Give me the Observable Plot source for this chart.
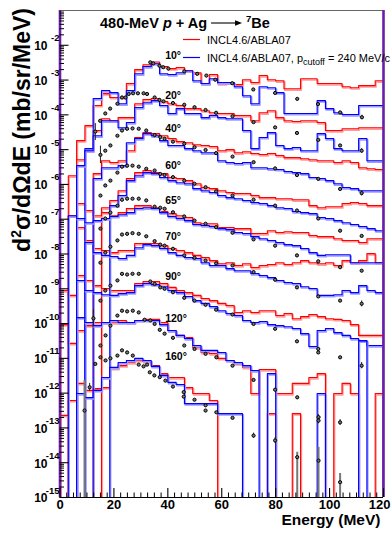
<!DOCTYPE html>
<html>
<head>
<meta charset="utf-8">
<script src="https://cdn.jsdelivr.net/npm/d3@7"></script>
<script src="https://cdn.jsdelivr.net/npm/@observablehq/plot@0.6"></script>
<style>
  html, body { margin: 0; padding: 0; background: #fff; }
  #chart svg { display: block; overflow: hidden; }
</style>
</head>
<body>
<div id="chart"></div>
<script>
// 480-MeV p + Ag -> 7Be: double-differential cross sections, log10(d2σ/dΩdE),
// each emission angle shifted down by its own decade factor.
const angles = [10, 20, 40, 60, 65, 70, 90, 120, 160];
const nBins = 39;   // model histograms: 39 bins over 0-120 MeV
const eMax = 120;

// INCL4.6/ABLA07 histograms, log10 per bin (null = empty bin)
const red10  = [null, null, -4.74, -4.31, -3.73, -3.39, -3.50, -3.50, -3.10, -2.70, -2.56, -2.48, -2.61, -2.67, -2.64, -2.73, -2.79, -3.10, -2.84, -3.10, -3.07, -3.13, -2.99, -3.07, -2.87, -2.99, -3.02, -3.25, -3.25, -2.96, -2.96, -3.10, -3.10, -3.10, -3.19, -3.22, -3.16, -3.16, -3.02];
const red20  = [null, -5.75, -5.29, -5.03, -4.45, -4.11, -4.17, -4.08, -4.08, -3.68, -3.56, -3.53, -3.62, -3.68, -3.73, -3.82, -3.82, -3.88, -3.94, -3.96, -3.96, -4.02, -4.02, -4.17, -3.94, -3.88, -4.08, -4.17, -4.19, -4.17, -4.17, -4.22, -4.45, -4.45, -4.40, -4.40, -4.37, -4.37, -4.37];
const red40  = [null, null, null, null, -5.69, -5.32, -5.37, -5.32, -5.03, -4.65, -4.51, -4.54, -4.60, -4.68, -4.77, -4.80, -4.86, -4.88, -4.91, -5.03, -5.00, -5.09, -5.06, -5.11, -5.14, -5.11, -5.17, -5.23, -5.23, -5.26, -5.29, -5.32, -5.32, -5.37, -5.32, -5.37, -5.52, -5.55, -5.57];
const red60  = [null, null, null, null, null, -6.67, -6.46, -6.18, -5.83, -5.66, -5.60, -5.66, -5.69, -5.80, -5.83, -5.89, -5.98, -6.09, -6.12, -6.18, -6.23, -6.26, -6.26, -6.32, -6.38, -6.38, -6.41, -6.41, -6.44, -6.44, -6.61, -6.67, -6.64, -6.64, -6.55, -6.52, -6.55, -6.61, -6.61];
const red65  = [null, -6.90, -6.55, -6.75, -6.90, -6.81, -6.90, -6.81, -6.69, -6.61, -6.61, -6.67, -6.78, -6.84, -6.90, -6.95, -7.10, -7.13, -7.13, -7.24, -7.24, -7.27, -7.27, -7.41, -7.41, -7.33, -7.38, -7.36, -7.38, -7.38, -7.47, -7.50, -7.50, -7.56, -7.61, -7.61, -7.67, -7.56, -7.56];
const red70  = [null, null, -7.24, -7.61, -7.84, -7.90, -7.96, -7.90, -7.90, -7.70, -7.70, -7.70, -7.76, -7.84, -7.90, -7.96, -8.04, -8.10, -8.19, -8.28, -8.25, -8.33, -8.28, -8.39, -8.33, -8.30, -8.25, -8.30, -8.25, -8.19, -8.25, -8.28, -8.25, -8.33, -8.19, -8.25, -8.19, -7.99, -8.25];
const red90  = [-9.05, -9.19, -8.62, -8.76, -8.91, -8.99, -9.05, -9.05, -9.05, -8.85, -8.79, -8.79, -8.85, -8.96, -9.05, -9.11, -9.19, -9.28, -9.34, -9.42, -9.48, -9.68, -9.63, -9.68, -9.63, -9.63, -9.77, -9.71, -9.86, -9.80, -9.74, -9.80, -9.86, -9.88, -9.91, -10.03, -10.34, -10.34, -10.34];
const red120 = [-10.03, -10.57, -10.20, -10.06, -9.97, -9.97, -9.97, -9.91, -9.97, -9.91, -9.88, -9.88, -9.97, -10.20, -10.34, -10.40, -10.69, -10.83, -10.86, -11.00, -11.06, -11.15, -11.26, -12.01, -11.32, -11.32, -12.01, -12.01, -11.72, -11.72, -11.55, -11.44, null, -12.01, -11.72, -12.01, null, null, -12.01];
const red160 = [-12.64, -12.21, -11.72, -11.92, -11.87, -11.84, -11.29, -11.21, -11.12, -11.06, -11.09, -11.21, -11.44, -11.55, -11.55, -11.84, -12.01, -12.01, -12.21, null, null, null, null, null, null, -12.59, null, null, -12.59, null, null, null, null, null, null, null, null, null, null];

// INCL4.6/ABLA07 with p_cutoff = 240 MeV/c
const blue10  = [null, null, null, -4.97, -3.53, -3.30, -3.36, -3.68, -3.30, -2.82, -2.61, -2.53, -2.82, -2.84, -2.79, -2.73, -3.02, -3.10, -2.96, -3.07, -3.07, -3.19, -3.45, -3.68, -3.19, -3.22, -3.36, -3.96, -3.96, -3.96, -3.96, -3.59, -3.82, -3.94, -3.99, -3.99, -3.73, -3.73, -3.73];
const blue20  = [null, null, -5.46, -5.03, -4.60, -4.17, -4.17, -4.37, -4.22, -3.79, -3.65, -3.59, -3.73, -3.96, -3.82, -3.96, -3.96, -4.08, -4.02, -4.08, -4.11, -4.11, -4.45, -4.97, -4.65, -4.51, -4.88, -4.97, -4.94, -5.03, -5.03, -4.54, -4.68, -4.97, -5.03, -5.03, -4.68, -5.32, -5.32];
const blue40  = [null, null, null, null, -5.83, -5.52, -5.52, -5.46, -4.80, -4.68, -4.54, -4.60, -4.74, -4.88, -4.88, -4.97, -5.03, -5.09, -5.09, -5.32, -5.37, -5.40, -5.37, -5.52, -5.52, -5.55, -5.57, -5.63, -5.66, -5.69, -5.80, -5.83, -5.89, -5.98, -6.09, -6.12, -6.18, -6.18, -6.18];
const blue60  = [null, null, null, null, null, null, -6.61, -6.32, -5.89, -5.75, -5.66, -5.69, -5.80, -5.89, -5.95, -5.98, -6.12, -6.18, -6.23, -6.32, -6.38, -6.41, -6.46, -6.52, -6.55, -6.61, -6.67, -6.69, -6.78, -6.81, -6.84, -6.95, -6.98, -7.04, -7.10, -7.15, -7.21, -7.27, -7.33];
const blue65  = [null, -6.90, -6.98, -7.10, -7.04, -6.98, -6.92, -6.87, -6.81, -6.69, -6.67, -6.69, -6.81, -6.92, -6.98, -7.04, -7.15, -7.18, -7.21, -7.27, -7.30, -7.38, -7.41, -7.50, -7.56, -7.61, -7.67, -7.73, -7.76, -7.84, -7.96, -8.04, -8.02, -8.02, -8.02, -8.25, -8.25, -8.25, -8.25];
const blue70  = [null, null, null, -7.67, -7.96, -8.04, -8.07, -8.13, -8.04, -7.82, -7.73, -7.76, -7.84, -7.96, -8.04, -8.10, -8.13, -8.25, -8.33, -8.33, -8.42, -8.48, -8.48, -8.56, -8.62, -8.68, -8.76, -8.82, -8.85, -8.94, -8.99, -9.19, -9.19, -9.17, -9.05, -9.11, -8.91, -9.05, -9.11];
const blue90  = [null, null, -8.76, -9.05, -9.11, -9.17, -9.19, -9.14, -9.11, -8.91, -8.85, -8.88, -8.94, -9.05, -9.11, -9.22, -9.34, -9.42, -9.51, -9.63, -9.71, -9.77, -9.91, -9.97, -9.94, -10.03, -10.06, -10.09, -10.14, -10.29, -10.66, -10.20, -10.14, -10.26, -10.34, -10.43, -10.49, -10.63, -10.63];
const blue120 = [null, null, -9.83, -9.97, -10.06, -9.97, -9.91, -9.97, -9.97, -9.91, -9.91, -9.91, -10.03, -10.20, -10.34, -10.43, -10.63, -10.77, -10.77, -10.83, -11.06, -11.12, -11.21, -11.35, null, -11.44, null, null, null, null, null, -12.01, null, null, null, null, -10.50, null, null];
const blue160 = [null, null, -12.01, -12.13, -11.92, -11.55, -11.26, -11.12, -11.06, -11.00, -11.06, -11.23, -11.49, -11.69, -11.75, -12.30, -12.30, -12.30, -12.30, -12.59, -12.59, -12.59, null, null, null, null, null, null, null, null, null, null, null, null, null, null, null, null, null];

// measured spectra: energy (MeV) and log10 value
const pts10E  = [33.5, 34.6, 36.9, 38.3, 40.2, 46.1, 50.9, 54.3, 57.6, 63.9, 71.7, 79.8, 88.0, 95.7, 103.9, 112.0];
const pts10L  = [-2.49, -2.52, -2.59, -2.63, -2.67, -2.75, -2.82, -2.87, -2.99, -3.09, -3.27, -3.37, -3.54, -3.69, -3.93, -4.07];
const pts20E  = [13.1, 14.9, 16.8, 18.6, 21.3, 23.0, 24.3, 25.5, 27.1, 28.9, 31.0, 32.3, 35.1, 36.9, 38.4, 41.9, 46.1, 49.9, 54.0, 57.9, 64.0, 71.8, 79.8, 87.9, 95.8, 103.9, 111.9];
const pts20L  = [-4.48, -4.17, -3.96, -3.82, -3.68, -3.50, -3.50, -3.40, -3.38, -3.38, -3.38, -3.40, -3.50, -3.57, -3.61, -3.66, -3.71, -3.78, -3.86, -3.94, -4.04, -4.21, -4.36, -4.52, -4.72, -4.88, -5.03];
const ptsMidE = [15.0, 16.8, 18.7, 21.3, 23.0, 24.9, 26.9, 29.2, 32.0, 35.1, 37.2, 38.8, 41.9, 46.1, 49.9, 54.0, 57.9, 64.0, 71.8, 79.8, 87.9, 95.8, 103.9, 111.9];
const pts40L  = [-5.15, -5.03, -4.88, -4.60, -4.45, -4.40, -4.39, -4.40, -4.45, -4.58, -4.64, -4.69, -4.77, -4.83, -4.93, -5.01, -5.10, -5.20, -5.36, -5.54, -5.73, -5.84, -6.13, -6.25];
const pts60L  = [-6.32, -6.03, -5.89, -5.66, -5.49, -5.46, -5.46, -5.49, -5.55, -5.60, -5.70, -5.73, -5.79, -5.89, -5.98, -6.08, -6.20, -6.32, -6.44, -6.61, -6.75, -6.98, -7.33, -7.48];
const pts65L  = [-7.27, -6.98, -6.81, -6.61, -6.44, -6.41, -6.41, -6.41, -6.46, -6.64, -6.67, -6.70, -6.80, -6.92, -7.04, -7.13, -7.23, -7.39, -7.58, -7.76, -8.04, -8.21, -8.38, -8.48];
const pts70L  = [-8.25, -7.96, -7.79, -7.61, -7.44, -7.42, -7.40, -7.42, -7.49, -7.63, -7.73, -7.76, -7.85, -8.04, -8.11, -8.19, -8.27, -8.33, -8.52, -8.74, -8.96, -9.22, -9.34, -9.43];
const pts90E  = [15.0, 16.8, 18.7, 21.3, 23.0, 24.9, 26.9, 29.2, 33.5, 35.1, 37.2, 38.8, 41.9, 46.1, 49.9, 54.0, 57.9, 64.0, 71.8, 79.8, 87.9, 95.8, 95.8, 103.9, 111.9];
const pts90L  = [-9.34, -9.05, -8.91, -8.76, -8.57, -8.59, -8.57, -8.57, -8.79, -8.86, -8.96, -9.00, -9.10, -9.26, -9.34, -9.46, -9.60, -9.74, -10.01, -10.15, -10.51, -10.73, -10.83, -10.97, -11.21];
const pts120E = [12.4, 15.0, 16.9, 18.7, 21.3, 23.0, 24.9, 27.0, 29.2, 31.4, 33.5, 35.1, 37.0, 38.8, 41.9, 46.1, 49.9, 54.0, 58.0, 64.0, 71.8, 79.8, 88.0, 95.9, 95.9, 103.9];
const pts120L = [-9.85, -10.63, -10.34, -10.06, -9.77, -9.63, -9.65, -9.63, -9.68, -9.89, -9.91, -10.01, -10.18, -10.29, -10.41, -10.63, -10.73, -10.87, -10.97, -11.21, -11.62, -11.90, -12.12, -12.69, -12.79, -12.84];
const pts160E = [9.1, 11.0, 13.1, 15.0, 16.9, 18.7, 21.3, 23.0, 24.9, 27.0, 29.2, 31.0, 32.3, 33.3, 35.0, 37.0, 39.1, 41.9, 45.9, 45.9, 49.9, 54.0, 54.0, 58.0, 64.0, 71.8, 79.8, 88.0, 95.9, 103.9];
const pts160L = [-12.50, -11.83, -11.16, -10.97, -11.06, -11.00, -10.92, -10.77, -10.83, -10.92, -11.18, -11.23, -11.18, -11.40, -11.49, -11.54, -11.64, -11.81, -11.97, -12.10, -12.19, -12.35, -12.50, -12.55, -12.71, -13.22, -13.36, -13.84, -13.94, -14.56];

// error bars: energy, low and high log10 (null low = bar open down to zero)
const errE  = [9.1, 11.0, 13.1, 15.0, 12.4, 88.0, 95.9, 103.9, 95.9, 103.9, 79.8, 71.8, 111.9, 111.9, 112.0, 111.9, 111.9];
const errLo = [null, -11.95, -4.74, -5.40, -10.10, null, null, null, -12.88, -12.93, -13.45, -13.30, -11.30, -9.52, -4.13, -5.10, -6.33];
const errHi = [-11.63, -11.72, -4.25, -4.90, -9.60, -13.70, -13.56, -14.31, -12.62, -12.76, -13.28, -13.15, -11.12, -9.35, -4.01, -4.97, -6.18];

// angle labels: energy and log10 of their anchor
const labelE = [39, 39, 39, 39, 39, 39, 39, 39, 39];
const labelL = [-2.29, -3.44, -4.40, -5.45, -6.46, -7.49, -8.66, -9.86, -10.96];

// axis ticks
const xMajor = [0, 20, 40, 60, 80, 100, 120];
const xMinorStep = 2.5;
const yExponents = [-2, -3, -4, -5, -6, -7, -8, -9, -10, -11, -12, -13, -14, -15];

const series = [
  {angle: 10,  red: red10,  blue: blue10,  E: pts10E,  L: pts10L},
  {angle: 20,  red: red20,  blue: blue20,  E: pts20E,  L: pts20L},
  {angle: 40,  red: red40,  blue: blue40,  E: ptsMidE, L: pts40L},
  {angle: 60,  red: red60,  blue: blue60,  E: ptsMidE, L: pts60L},
  {angle: 65,  red: red65,  blue: blue65,  E: ptsMidE, L: pts65L},
  {angle: 70,  red: red70,  blue: blue70,  E: ptsMidE, L: pts70L},
  {angle: 90,  red: red90,  blue: blue90,  E: pts90E,  L: pts90L},
  {angle: 120, red: red120, blue: blue120, E: pts120E, L: pts120L},
  {angle: 160, red: red160, blue: blue160, E: pts160E, L: pts160L}
];

const W = 392, H = 536;
const mL = 59.5, mR = 9, mT = 10, mB = 39;
const plotW = W - mL - mR, plotH = H - mT - mB;
const FONT = "'Liberation Sans', Arial, Helvetica, sans-serif";
const RED = "#ff0000", BLUE = "#0000ff", PURPLE = "#6a1fa8";
const FLOOR = 1e-17; // empty bins fall below the frame
const edges = d3.range(nBins + 1).map(k => k * eMax / nBins);

// ROOT-style outline: up from zero at the first edge, steps, back down at the last edge
function outline(logs) {
  const pts = [{E: 0, v: FLOOR}];
  logs.forEach((l, k) => {
    const v = l == null ? FLOOR : 10 ** l;
    pts.push({E: edges[k], v}, {E: edges[k + 1], v});
  });
  pts.push({E: eMax, v: FLOOR});
  return pts;
}

const histMarks = (key, color, halo) => series.flatMap(s => [
  Plot.line(outline(s[key]), {x: "E", y: "v", stroke: halo, strokeWidth: 1.7, dx: 0.8, dy: 1.3, clip: true}),
  Plot.line(outline(s[key]), {x: "E", y: "v", stroke: color, strokeWidth: 1.1, clip: true})
]);

const points = series.flatMap(s => s.E.map((e, i) => ({E: e, v: 10 ** s.L[i]})));
const errors = errE.map((e, i) => ({E: e, lo: errLo[i] == null ? FLOOR : 10 ** errLo[i], hi: 10 ** errHi[i], open: errLo[i] == null}));

const yMinor = d3.range(-15, -1).flatMap(p => d3.range(2, 10).map(m => m * 10 ** p));
const xMinor = d3.range(0, eMax + 0.01, xMinorStep).filter(x => x % 20 !== 0);

const chart = Plot.plot({
  width: W, height: H,
  marginLeft: mL, marginRight: mR, marginTop: mT, marginBottom: mB,
  style: {fontFamily: FONT, background: "#fff", color: "#000"},
  x: {domain: [0, eMax], axis: null},
  y: {type: "log", domain: [1e-15, 1e-1], axis: null},
  marks: [
    ...histMarks("red", RED, "#ff9a9a"),
    ...histMarks("blue", BLUE, "#9a9aff"),
    Plot.ruleX(errors, {x: "E", y1: "lo", y2: "hi", stroke: d => d.open ? "#777" : "#222", strokeWidth: d => d.open ? 2 : 1, clip: true}),
    Plot.dot(points, {x: "E", y: "v", r: 1.6, fill: "#777", stroke: "#000", strokeWidth: 1, clip: true}),
    Plot.text(series, {x: (d, i) => labelE[i], y: (d, i) => 10 ** labelL[i], text: d => d.angle + "°", textAnchor: "start", fontSize: 10.5, fontWeight: "bold", fontFamily: FONT}),
    Plot.ruleY([1e-1], {stroke: "#666", strokeWidth: 1}),
    Plot.ruleY([1e-15], {stroke: "#000", strokeWidth: 1.2}),
    Plot.ruleX([0, eMax], {stroke: PURPLE, strokeWidth: 2.6}),
    Plot.tickY(yExponents.map(p => 10 ** p), {y: d => d, insetRight: plotW - 9, strokeWidth: 1.1}),
    Plot.tickY(yMinor, {y: d => d, insetRight: plotW - 4.5}),
    Plot.tickX(xMajor, {x: d => d, insetTop: plotH - 9, strokeWidth: 1.1}),
    Plot.tickX(xMinor, {x: d => d, insetTop: plotH - 4.5}),
    Plot.text(yExponents, {y: d => 10 ** d, text: () => "10", frameAnchor: "left", textAnchor: "end", dx: -12.5, dy: 1, fontSize: 12, fontWeight: "bold", fontFamily: FONT}),
    Plot.text(yExponents, {y: d => 10 ** d, text: d => String(d), frameAnchor: "left", textAnchor: "end", dx: -0.5, dy: -7, fontSize: 9.5, fontWeight: "bold", fontFamily: FONT}),
    Plot.text(xMajor.filter(d => d < eMax), {x: d => d, text: d => String(d), frameAnchor: "bottom", dy: 11, fontSize: 13, fontWeight: "bold", fontFamily: FONT}),
    Plot.text([eMax], {x: d => d, text: d => String(d), frameAnchor: "bottom", textAnchor: "end", dx: 7, dy: 11, fontSize: 13, fontWeight: "bold", fontFamily: FONT}),
    Plot.text(["Energy (MeV)"], {frameAnchor: "bottom-right", textAnchor: "end", dx: -3, dy: 27, fontSize: 15.5, fontWeight: "bold", fontFamily: FONT})
  ]
});

document.getElementById("chart").appendChild(chart);

// title, legend and y-axis title
const svg = d3.select(chart);

const title = svg.append("text").attr("x", 100).attr("y", 28).attr("text-anchor", "start")
  .attr("font-family", FONT).attr("font-size", 14.5).attr("font-weight", "bold").attr("fill", "#000");
title.append("tspan").text("480-MeV ");
title.append("tspan").attr("font-style", "italic").text("p");
title.append("tspan").text(" + Ag");
const tEnd = 100 + title.node().getComputedTextLength();
svg.append("line").attr("x1", tEnd + 4).attr("x2", tEnd + 30).attr("y1", 23).attr("y2", 23)
  .attr("stroke", "#000").attr("stroke-width", 1.1);
svg.append("path").attr("d", `M${tEnd + 35},23 l-7,-2.8 l0,5.6 z`).attr("fill", "#000");
const prod = svg.append("text").attr("x", tEnd + 39).attr("y", 28).attr("text-anchor", "start")
  .attr("font-family", FONT).attr("font-size", 14.5).attr("font-weight", "bold").attr("fill", "#000");
prod.append("tspan").attr("font-size", 9.5).attr("dy", -6).text("7");
prod.append("tspan").attr("dy", 6).text("Be");

const legend = [
  {color: RED, y: 39.5, parts: [["INCL4.6/ABLA07", 0]]},
  {color: BLUE, y: 57.5, parts: [["INCL4.6/ABLA07, p", 0], ["cutoff", 3], [" = 240 MeV/c", -3]]}
];
legend.forEach(item => {
  svg.append("line").attr("x1", 183).attr("x2", 200).attr("y1", item.y).attr("y2", item.y)
    .attr("stroke", item.color).attr("stroke-width", 1.2);
  const t = svg.append("text").attr("x", 207).attr("y", item.y + 4.3).attr("text-anchor", "start")
    .attr("font-family", FONT).attr("font-size", 11).attr("fill", "#000");
  item.parts.forEach(([s, dy]) => {
    const sp = t.append("tspan").attr("dy", dy).text(s);
    if (dy > 0) sp.attr("font-size", 9);
  });
});

const ytitle = svg.append("text").attr("transform", "translate(30,8) rotate(-90)")
  .attr("text-anchor", "end").attr("font-family", FONT).attr("font-size", 23)
  .attr("font-weight", "bold").attr("fill", "#000");
ytitle.append("tspan").text("d");
ytitle.append("tspan").attr("font-size", 14).attr("dy", -9).text("2");
ytitle.append("tspan").attr("dy", 9).text("σ/dΩdE (mb/sr/MeV)");
</script>
</body>
</html>
